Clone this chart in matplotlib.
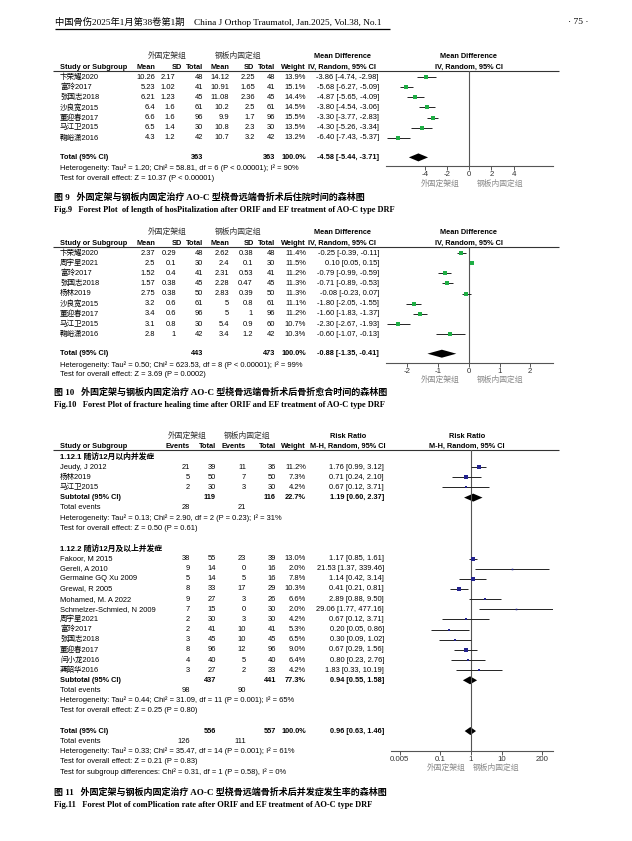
import matplotlib
matplotlib.use('Agg')
import matplotlib.pyplot as plt

W, H = 632, 841
SANS = ['Liberation Sans', 'Noto Sans CJK SC']
SERIF = ['Liberation Serif', 'Noto Sans CJK SC']
CJK = ['Noto Sans CJK SC']
FS = 5.45
FSB = 5.3
plt.rcParams['font.family'] = SANS

# ---- Fig 9: length of hospitalization (mean difference) ----
studies9 = ['卞荣耀2020', '富玲2017', '张国志2018', '沙良宽2015', '董迎春2017', '马江卫2015', '鞠峪潇2016']
mean1_9 = [10.26, 5.23, 6.21, 6.4, 6.6, 6.5, 4.3]
sd1_9 = [2.17, 1.02, 1.23, 1.6, 1.6, 1.4, 1.2]
n1_9 = [48, 41, 45, 61, 96, 30, 42]
mean2_9 = [14.12, 10.91, 11.08, 10.2, 9.9, 10.8, 10.7]
sd2_9 = [2.25, 1.65, 2.36, 2.5, 1.7, 2.3, 3.2]
n2_9 = [48, 41, 45, 61, 96, 30, 42]
weight9 = [13.9, 15.1, 14.4, 14.5, 15.5, 13.5, 13.2]
md9 = [-3.86, -5.68, -4.87, -3.80, -3.30, -4.30, -6.40]
lo9 = [-4.74, -6.27, -5.65, -4.54, -3.77, -5.26, -7.43]
hi9 = [-2.98, -5.09, -4.09, -3.06, -2.83, -3.34, -5.37]
total9 = (363, 363, -4.58, -5.44, -3.71)
het9 = 'Heterogeneity: Tau² = 1.20; Chi² = 58.81, df = 6 (P < 0.00001); I² = 90%'
test9 = 'Test for overall effect: Z = 10.37 (P < 0.00001)'
ticks9 = [-4, -2, 0, 2, 4]

# ---- Fig 10: fracture healing time (mean difference) ----
studies10 = ['卞荣耀2020', '周宇星2021', '富玲2017', '张国志2018', '杨林2019', '沙良宽2015',
             '董迎春2017', '马江卫2015', '鞠峪潇2016']
mean1_10 = [2.37, 2.5, 1.52, 1.57, 2.75, 3.2, 3.4, 3.1, 2.8]
sd1_10 = [0.29, 0.1, 0.4, 0.38, 0.38, 0.6, 0.6, 0.8, 1]
n1_10 = [48, 30, 41, 45, 50, 61, 96, 30, 42]
mean2_10 = [2.62, 2.4, 2.31, 2.28, 2.83, 5, 5, 5.4, 3.4]
sd2_10 = [0.38, 0.1, 0.53, 0.47, 0.39, 0.8, 1, 0.9, 1.2]
n2_10 = [48, 30, 41, 45, 50, 61, 96, 60, 42]
weight10 = [11.4, 11.5, 11.2, 11.3, 11.3, 11.1, 11.2, 10.7, 10.3]
md10 = [-0.25, 0.10, -0.79, -0.71, -0.08, -1.80, -1.60, -2.30, -0.60]
lo10 = [-0.39, 0.05, -0.99, -0.89, -0.23, -2.05, -1.83, -2.67, -1.07]
hi10 = [-0.11, 0.15, -0.59, -0.53, 0.07, -1.55, -1.37, -1.93, -0.13]
total10 = (443, 473, -0.88, -1.35, -0.41)
het10 = 'Heterogeneity: Tau² = 0.50; Chi² = 623.53, df = 8 (P < 0.00001); I² = 99%'
test10 = 'Test for overall effect: Z = 3.69 (P = 0.0002)'
ticks10 = [-2, -1, 0, 1, 2]

# ---- Fig 11: complication rate (risk ratio) ----
studies11a = ['Jeudy, J 2012', '杨林2019', '马江卫2015']
ev1_11a = [21, 5, 2]
tot1_11a = [39, 50, 30]
ev2_11a = [11, 7, 3]
tot2_11a = [36, 50, 30]
weight11a = [11.2, 7.3, 4.2]
rr11a = [1.76, 0.71, 0.67]
lo11a = [0.99, 0.24, 0.12]
hi11a = [3.12, 2.10, 3.71]
sub11a = (119, 116, 22.7, 1.19, 0.60, 2.37, 28, 21)
het11a = 'Heterogeneity: Tau² = 0.13; Chi² = 2.90, df = 2 (P = 0.23); I² = 31%'
test11a = 'Test for overall effect: Z = 0.50 (P = 0.61)'

studies11b = ['Fakoor, M 2015', 'Gereli, A 2010', 'Germaine GQ Xu 2009', 'Grewal, R 2005',
              'Mohamed, M. A 2022', 'Schmelzer-Schmied, N 2009', '周宇星2021', '富玲2017',
              '张国志2018', '董迎春2017', '闫小龙2016', '龚韶华2016']
ev1_11b = [38, 9, 5, 8, 9, 7, 2, 2, 3, 8, 4, 3]
tot1_11b = [55, 14, 14, 33, 27, 15, 30, 41, 45, 96, 40, 27]
ev2_11b = [23, 0, 5, 17, 3, 0, 3, 10, 10, 12, 5, 2]
tot2_11b = [39, 16, 16, 29, 26, 30, 30, 41, 45, 96, 40, 33]
weight11b = [13.0, 2.0, 7.8, 10.3, 6.6, 2.0, 4.2, 5.3, 6.5, 9.0, 6.4, 4.2]
rr11b = [1.17, 21.53, 1.14, 0.41, 2.89, 29.06, 0.67, 0.20, 0.30, 0.67, 0.80, 1.83]
lo11b = [0.85, 1.37, 0.42, 0.21, 0.88, 1.77, 0.12, 0.05, 0.09, 0.29, 0.23, 0.33]
hi11b = [1.61, 339.46, 3.14, 0.81, 9.50, 477.16, 3.71, 0.86, 1.02, 1.56, 2.76, 10.19]
sub11b = (437, 441, 77.3, 0.94, 0.55, 1.58, 98, 90)
het11b = 'Heterogeneity: Tau² = 0.44; Chi² = 31.09, df = 11 (P = 0.001); I² = 65%'
test11b = 'Test for overall effect: Z = 0.25 (P = 0.80)'

total11 = (556, 557, 0.96, 0.63, 1.46, 126, 111)
het11 = 'Heterogeneity: Tau² = 0.33; Chi² = 35.47, df = 14 (P = 0.001); I² = 61%'
test11 = 'Test for overall effect: Z = 0.21 (P = 0.83)'
subdiff11 = 'Test for subgroup differences: Chi² = 0.31, df = 1 (P = 0.58), I² = 0%'
ticks11 = [0.005, 0.1, 1, 10, 200]

GROUP1 = '外固定架组'
GROUP2 = '钢板内固定组'

fig = plt.figure(figsize=(W / 100, H / 100), dpi=100)
page = fig.add_axes([0, 0, 1, 1])
page.set_xlim(0, W)
page.set_ylim(H, 0)
page.axis('off')


def txt(x, y, s, ha='left', bold=False, size=None, family=SANS, color='black'):
    if size is None:
        size = FSB if bold else FS
    page.text(x, y, s, ha=ha, va='center', fontsize=size, family=family,
              fontweight='bold' if bold else 'normal', color=color)


def hline(y, x0, x1, lw=0.8, color='#333333'):
    page.plot([x0, x1], [y, y], color=color, lw=lw, solid_capstyle='butt')


def g(v):
    return '{:g}'.format(v)


def ci(e, l, h):
    return '{:.2f} [{:.2f}, {:.2f}]'.format(e, l, h)


def forest_axes(x0, x1, y0, y1, xlim, ticks, log=False):
    ax = fig.add_axes([x0 / W, 1 - y1 / H, (x1 - x0) / W, (y1 - y0) / H])
    if log:
        ax.set_xscale('log')
    ax.set_xlim(xlim)
    ax.set_ylim(y1, y0)
    ax.patch.set_visible(False)
    for s in ['top', 'left', 'right']:
        ax.spines[s].set_visible(False)
    ax.spines['bottom'].set_color('#555555')
    ax.spines['bottom'].set_linewidth(0.8)
    ax.set_yticks([])
    ax.set_xticks(ticks)
    ax.set_xticklabels([g(t) for t in ticks])
    ax.minorticks_off()
    ax.tick_params(axis='x', direction='out', length=3, width=0.7, color='#555555',
                   pad=0.5, labelsize=FS + 0.2, labelcolor='#333333')
    ax.axvline(1 if log else 0, color='#555555', lw=0.8)
    return ax


def study(ax, y, est, lo, hi, w, color):
    ax.plot([lo, hi], [y, y], color='#222222', lw=0.7, solid_capstyle='butt')
    ax.plot([est], [y], 's', color=color, ms=0.8 * w ** 0.5, mew=0)


def diamond(ax, y, est, lo, hi, h=4):
    ax.fill([lo, est, hi, est], [y, y - h, y, y + h], color='black', lw=0)


# ---- page header ----
txt(55, 22, '中国骨伤2025年1月第38卷第1期    China J Orthop Traumatol, Jan.2025, Vol.38, No.1',
    size=6.7, family=SERIF)
hline(29, 55, 390, lw=0.9, color='black')
txt(578, 22, '· 75 ·', ha='center', size=6.8, family=SERIF)


# ---- continuous (mean difference) tables ----
def md_table(top, names, m1, s1, n1, m2, s2, n2, wt, md, lo, hi, tot, het, test,
             xlim, ticks, sdx1, sdx2, cap_y, cap_cn, cap_en):
    y_grp, y_col, y_line = top, top + 11, top + 15
    rows = [top + 21 + 10.15 * i for i in range(len(names))]
    y_tot = rows[-1] + 19.5
    y_axis = y_tot + 9
    txt(167, y_grp, GROUP1, ha='center', family=CJK, size=5.6, color='#333333')
    txt(238, y_grp, GROUP2, ha='center', family=CJK, size=5.6, color='#333333')
    for cx in (342, 469):
        txt(cx, y_grp, 'Mean Difference', ha='center', bold=True)
        txt(cx, y_col, 'IV, Random, 95% CI', ha='center', bold=True)
    txt(60, y_col, 'Study or Subgroup', bold=True)
    for x, s in [(155, 'Mean'), (182, 'SD'), (203, 'Total'), (229, 'Mean'),
                 (254, 'SD'), (275, 'Total'), (306, 'Weight')]:
        txt(x, y_col, s, ha='right', bold=True)
    hline(y_line, 53, 559)
    ax = forest_axes(386, 553, y_line, y_axis, xlim, ticks)
    for i, y in enumerate(rows):
        txt(60, y, names[i])
        txt(155, y, g(m1[i]), ha='right')
        txt(sdx1, y, g(s1[i]), ha='right')
        txt(203, y, g(n1[i]), ha='right')
        txt(229, y, g(m2[i]), ha='right')
        txt(sdx2, y, g(s2[i]), ha='right')
        txt(275, y, g(n2[i]), ha='right')
        txt(306, y, '{:.1f}%'.format(wt[i]), ha='right')
        txt(379, y, ci(md[i], lo[i], hi[i]), ha='right')
        study(ax, y, md[i], lo[i], hi[i], wt[i], '#1fae45')
    txt(60, y_tot, 'Total (95% CI)', bold=True)
    txt(203, y_tot, g(tot[0]), ha='right', bold=True)
    txt(275, y_tot, g(tot[1]), ha='right', bold=True)
    txt(306, y_tot, '100.0%', ha='right', bold=True)
    txt(379, y_tot, ci(tot[2], tot[3], tot[4]), ha='right', bold=True)
    diamond(ax, y_tot, tot[2], tot[3], tot[4])
    txt(60, y_tot + 11, het)
    txt(60, y_tot + 21, test)
    txt(440, y_axis + 17, GROUP1, ha='center', family=CJK, size=5.6, color='#8a8a8a')
    txt(500, y_axis + 17, GROUP2, ha='center', family=CJK, size=5.6, color='#8a8a8a')
    txt(54, cap_y, cap_cn, bold=True, size=6.5, family=SERIF)
    txt(54, cap_y + 13, cap_en, bold=True, size=6.0, family=SERIF)


md_table(56, studies9, mean1_9, sd1_9, n1_9, mean2_9, sd2_9, n2_9, weight9, md9, lo9, hi9,
         total9, het9, test9, (-7.5, 7.55), ticks9, 175, 255, 197,
         '图 9   外固定架与钢板内固定治疗 AO-C 型桡骨远端骨折术后住院时间的森林图',
         'Fig.9   Forest Plot  of length of hosPitalization after ORIF and EF treatment of AO-C type DRF')

md_table(232, studies10, mean1_10, sd1_10, n1_10, mean2_10, sd2_10, n2_10, weight10, md10,
         lo10, hi10, total10, het10, test10, (-2.70, 2.74), ticks10, 176, 253, 392,
         '图 10   外固定架与钢板内固定治疗 AO-C 型桡骨远端骨折术后骨折愈合时间的森林图',
         'Fig.10   Forest Plot of fracture healing time after ORIF and EF treatment of AO-C type DRF')

# ---- Fig 11: dichotomous (risk ratio) table ----
STEP = 10.15
y0 = 457


def ry(i):
    return y0 + STEP * i


txt(187, 436, GROUP1, ha='center', family=CJK, size=5.6, color='#333333')
txt(247, 436, GROUP2, ha='center', family=CJK, size=5.6, color='#333333')
txt(348, 436, 'Risk Ratio', ha='center', bold=True)
txt(467, 436, 'Risk Ratio', ha='center', bold=True)
txt(60, 446, 'Study or Subgroup', bold=True)
for x, s in [(190, 'Events'), (216, 'Total'), (246, 'Events'), (276, 'Total'), (306, 'Weight')]:
    txt(x, 446, s, ha='right', bold=True)
txt(348, 446, 'M-H, Random, 95% CI', ha='center', bold=True)
txt(467, 446, 'M-H, Random, 95% CI', ha='center', bold=True)
hline(449.5, 53, 559)
ax11 = forest_axes(391, 553, 449.5, 751, (10 ** -2.58, 10 ** 2.65), ticks11, log=True)


def rr_group(start, title, names, e1, t1, e2, t2, wt, rr, lo, hi, sub, het, test):
    txt(60, ry(start), title, bold=True, family=SANS, size=FSB + 0.3)
    for i in range(len(names)):
        y = ry(start + 1 + i)
        txt(60, y, names[i])
        txt(190, y, g(e1[i]), ha='right')
        txt(216, y, g(t1[i]), ha='right')
        txt(246, y, g(e2[i]), ha='right')
        txt(276, y, g(t2[i]), ha='right')
        txt(306, y, '{:.1f}%'.format(wt[i]), ha='right')
        txt(384, y, ci(rr[i], lo[i], hi[i]), ha='right')
        study(ax11, y, rr[i], lo[i], hi[i], wt[i], '#23238f')
    k = start + 1 + len(names)
    y = ry(k)
    txt(60, y, 'Subtotal (95% CI)', bold=True)
    txt(216, y, g(sub[0]), ha='right', bold=True)
    txt(276, y, g(sub[1]), ha='right', bold=True)
    txt(306, y, '{:.1f}%'.format(sub[2]), ha='right', bold=True)
    txt(384, y, ci(sub[3], sub[4], sub[5]), ha='right', bold=True)
    diamond(ax11, y, sub[3], sub[4], sub[5])
    txt(60, ry(k + 1), 'Total events')
    txt(190, ry(k + 1), g(sub[6]), ha='right')
    txt(246, ry(k + 1), g(sub[7]), ha='right')
    txt(60, ry(k + 2), het)
    txt(60, ry(k + 3), test)
    return k + 5


nxt = rr_group(0, '1.12.1 随访12月以内并发症', studies11a, ev1_11a, tot1_11a, ev2_11a, tot2_11a,
               weight11a, rr11a, lo11a, hi11a, sub11a, het11a, test11a)
nxt = rr_group(nxt, '1.12.2 随访12月及以上并发症', studies11b, ev1_11b, tot1_11b, ev2_11b, tot2_11b,
               weight11b, rr11b, lo11b, hi11b, sub11b, het11b, test11b)
yt = ry(nxt)
txt(60, yt, 'Total (95% CI)', bold=True)
txt(216, yt, g(total11[0]), ha='right', bold=True)
txt(276, yt, g(total11[1]), ha='right', bold=True)
txt(306, yt, '100.0%', ha='right', bold=True)
txt(384, yt, ci(total11[2], total11[3], total11[4]), ha='right', bold=True)
diamond(ax11, yt, total11[2], total11[3], total11[4])
txt(60, ry(nxt + 1), 'Total events')
txt(190, ry(nxt + 1), g(total11[5]), ha='right')
txt(246, ry(nxt + 1), g(total11[6]), ha='right')
txt(60, ry(nxt + 2), het11)
txt(60, ry(nxt + 3), test11)
txt(60, ry(nxt + 4), subdiff11)
txt(446, 768, GROUP1, ha='center', family=CJK, size=5.6, color='#8a8a8a')
txt(496, 768, GROUP2, ha='center', family=CJK, size=5.6, color='#8a8a8a')
txt(54, 792, '图 11   外固定架与钢板内固定治疗 AO-C 型桡骨远端骨折术后并发症发生率的森林图',
    bold=True, size=6.5, family=SERIF)
txt(54, 805, 'Fig.11   Forest Plot of comPlication rate after ORIF and EF treatment of AO-C type DRF',
    bold=True, size=6.0, family=SERIF)

fig.savefig('out.png', dpi=100)
